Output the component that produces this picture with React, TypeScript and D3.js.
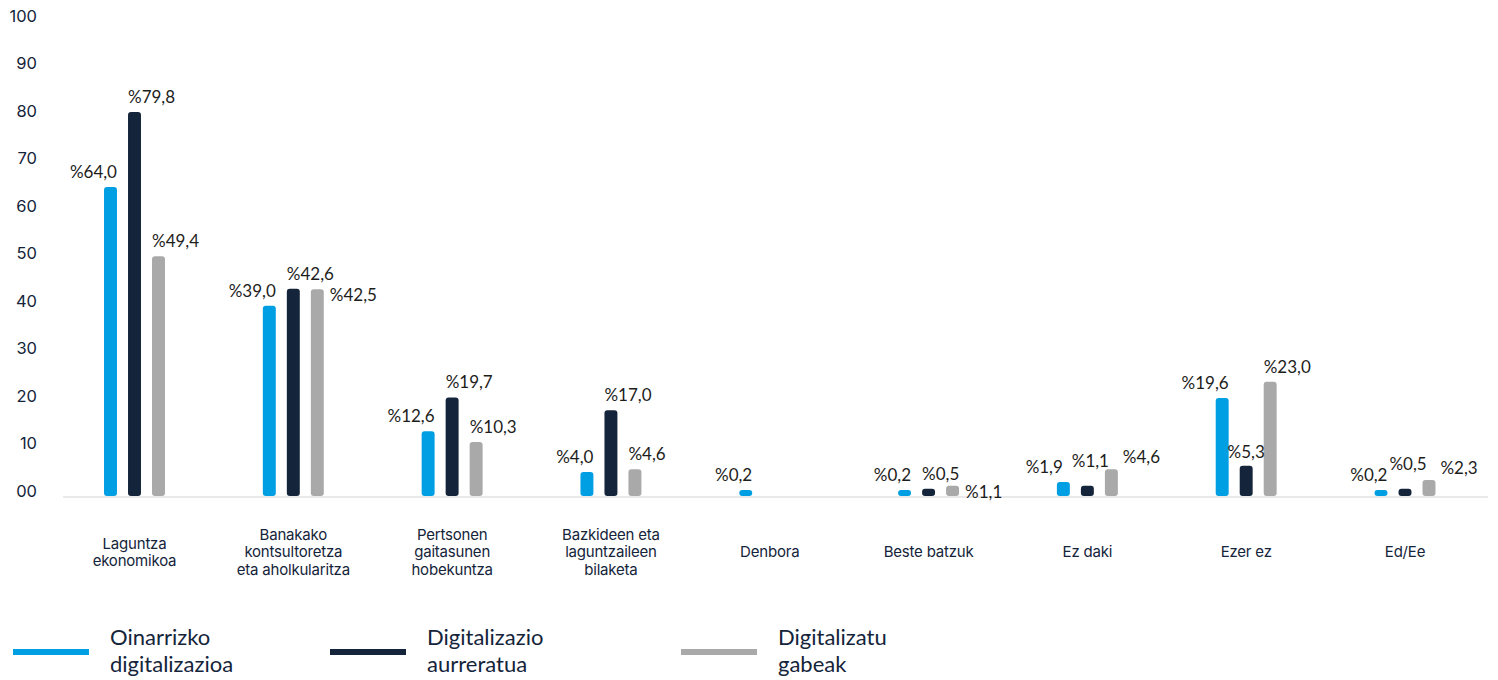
import React from 'react';
import * as d3 from 'd3';

// categories (line breaks as in the original labels)
const categories = [
  'Laguntza\nekonomikoa',
  'Banakako\nkontsultoretza\neta aholkularitza',
  'Pertsonen\ngaitasunen\nhobekuntza',
  'Bazkideen eta\nlaguntzaileen\nbilaketa',
  'Denbora',
  'Beste batzuk',
  'Ez daki',
  'Ezer ez',
  'Ed/Ee',
];

const seriesNames = [
  'Oinarrizko\ndigitalizazioa',
  'Digitalizazio\naurreratua',
  'Digitalizatu\ngabeak',
];

const basicValues = [64.0, 39.0, 12.6, 4.0, 0.2, 0.2, 1.9, 19.6, 0.2];
const advancedValues = [79.8, 42.6, 19.7, 17.0, null, 0.5, 1.1, 5.3, 0.5];
const nonDigitalValues = [49.4, 42.5, 10.3, 4.6, null, 1.1, 4.6, 23.0, 2.3];

const yTicks = [0, 10, 20, 30, 40, 50, 60, 70, 80, 90, 100];
const yTickLabels = ['00', '10', '20', '30', '40', '50', '60', '70', '80', '90', '100'];

// where each data label sits relative to its bar
const basicPlace = ['tl', 'tl', 'tl', 'tl', 'tl', 'tl', 'tll', 'tl', 'tl'];
const advancedPlace = ['tr', 'tr', 'tr', 'tr', '', 'tr', 'tcHigh', 'tc', 'tcHigh'];
const nonDigitalPlace = ['tr', 'rs', 'tr', 'tr', '', 'rs', 'ru', 'tr', 'ru'];

const colors = ['#009ee2', '#14243a', '#a9a9a9'];
const navy = '#14243a';
const catFont = 'Inter, "Noto Sans", sans-serif';
const labelFont = 'Lato, "Open Sans", sans-serif';

const fmt = (v: number) => '%' + v.toFixed(1).replace('.', ',');

export default function App() {
  const width = 1498;
  const height = 680;

  const series = [basicValues, advancedValues, nonDigitalValues];
  const places = [basicPlace, advancedPlace, nonDigitalPlace];

  const x0 = d3.scalePoint<string>().domain(categories).range([134.5, 1405]);
  const x1 = d3
    .scaleBand<number>()
    .domain([0, 1, 2])
    .range([-36, 36])
    .paddingInner(0.46)
    .paddingOuter(0.23);
  const y = d3.scaleLinear().domain([0, 100]).range([491, 16]);
  const bw = x1.bandwidth();
  const barBottom = y(0) + 5;

  const labelPos = (code: string, bx: number, top: number) => {
    switch (code) {
      case 'tl':
        return { x: bx + bw, y: top - 9, anchor: 'end' };
      case 'tll':
        return { x: bx + bw - 7, y: top - 9, anchor: 'end' };
      case 'tr':
        return { x: bx, y: top - 9, anchor: 'start' };
      case 'tc':
        return { x: bx + bw / 2, y: top - 8, anchor: 'middle' };
      case 'tcHigh':
        return { x: bx + bw / 2 + 3, y: top - 19, anchor: 'middle' };
      case 'rs':
        return { x: bx + bw + 6, y: top + 12, anchor: 'start' };
      default:
        return { x: bx + bw + 5, y: top - 6, anchor: 'start' };
    }
  };

  const legendX = [13, 330, 681];

  return (
    <svg
      width={width}
      height={height}
      style={{ position: 'absolute', left: 0, top: 0, background: '#fff' }}
    >
      {/* y tick labels */}
      {yTicks.map((t, i) => (
        <text
          key={t}
          x={37}
          y={y(t)}
          dy="0.35em"
          textAnchor="end"
          fontFamily={catFont}
          fontSize={16.5}
          fill={navy}
        >
          {yTickLabels[i]}
        </text>
      ))}

      {/* baseline */}
      <line x1={63} x2={1488} y1={497} y2={497} stroke="#e2e2e2" strokeWidth={1.5} />

      {/* bars */}
      {series.map((vals, s) =>
        vals.map((v, c) => {
          if (v == null) return null;
          const bx = (x0(categories[c]) as number) + (x1(s) as number);
          const top = y(v);
          return (
            <rect
              key={`b${s}-${c}`}
              x={bx}
              y={top}
              width={bw}
              height={barBottom - top}
              rx={3}
              fill={colors[s]}
            />
          );
        })
      )}

      {/* data labels */}
      {series.map((vals, s) =>
        vals.map((v, c) => {
          if (v == null) return null;
          const bx = (x0(categories[c]) as number) + (x1(s) as number);
          const p = labelPos(places[s][c], bx, y(v));
          return (
            <text
              key={`l${s}-${c}`}
              x={p.x}
              y={p.y}
              textAnchor={p.anchor}
              fontFamily={labelFont}
              fontSize={17}
              fill="#1d1d1b"
            >
              {fmt(v)}
            </text>
          );
        })
      )}

      {/* category labels */}
      {categories.map((c) => {
        const lines = c.split('\n');
        const lh = 17.5;
        const start = 552 - ((lines.length - 1) * lh) / 2;
        return (
          <text
            key={c}
            textAnchor="middle"
            fontFamily={catFont}
            fontSize={15}
            fill={navy}
            letterSpacing={-0.2}
          >
            {lines.map((ln, i) => (
              <tspan key={i} x={x0(c)} y={start + i * lh} dy="0.35em">
                {ln}
              </tspan>
            ))}
          </text>
        );
      })}

      {/* legend */}
      {seriesNames.map((name, s) => {
        const lx = legendX[s];
        const lines = name.split('\n');
        return (
          <g key={name}>
            <rect x={lx} y={649} width={76} height={6} fill={colors[s]} />
            <text fontFamily={labelFont} fontSize={22} fill={navy}>
              {lines.map((ln, i) => (
                <tspan key={i} x={lx + 97} y={645 + i * 26.5}>
                  {ln}
                </tspan>
              ))}
            </text>
          </g>
        );
      })}
    </svg>
  );
}
